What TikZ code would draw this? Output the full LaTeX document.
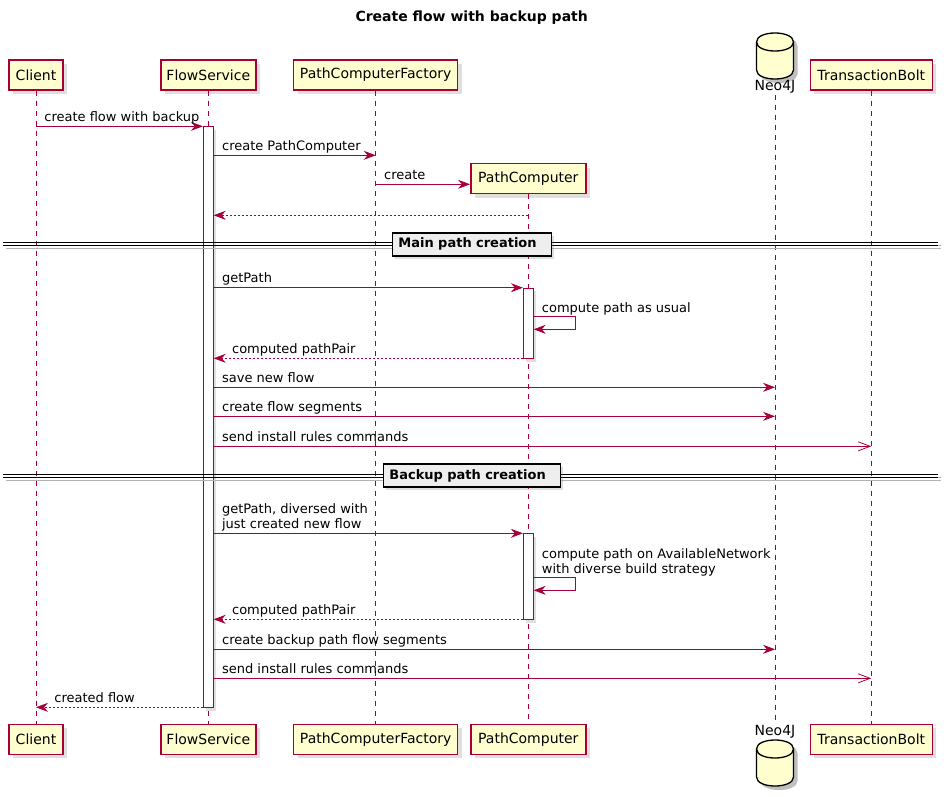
\documentclass[tikz,border=0pt]{standalone}
\usepackage{fontspec}
\setmainfont{DejaVu Sans}
\usetikzlibrary{arrows.meta,shadows}
\definecolor{umlred}{HTML}{A80036}
\definecolor{umlbox}{HTML}{FEFECE}
\definecolor{umlgrey}{HTML}{EEEEEE}
\tikzset{
  part/.style={draw=umlred, fill=umlbox, line width=1.5pt, minimum height=30, inner sep=0,
    font=\fontsize{14}{16}\selectfont,
    drop shadow={shadow xshift=4pt, shadow yshift=-4pt, opacity=.25}},
  life/.style={umlred, line width=0.8pt, dash pattern=on 5pt off 5pt},
  act/.style={draw=umlred, fill=white, line width=0.8pt, minimum width=10, inner sep=0,
    drop shadow={shadow xshift=3pt, shadow yshift=-3pt, opacity=.25}},
  msg/.style={umlred, line width=0.8pt, -{Stealth[length=12pt,width=9pt,inset=4pt]}},
  ret/.style={msg, dash pattern=on 2pt off 2pt},
  async/.style={umlred, line width=0.8pt, -{Straight Barb[length=12pt,width=9pt]}},
  lbl/.style={text=black, font=\fontsize{13}{15}\selectfont, anchor=south west, inner sep=0,
    text depth=3pt, align=left, yshift=1.5pt},
  divider/.style={draw, line width=1.5pt, fill=umlgrey, inner ysep=0, inner xsep=6, minimum height=23,
    anchor=west, align=left, font=\bfseries\fontsize{13}{15}\selectfont,
    drop shadow={shadow xshift=3pt, shadow yshift=-3pt, opacity=.25}},
  dbase/.style={draw, line width=1.3pt, fill=umlbox},
}
\begin{document}
\begin{tikzpicture}[x=1pt,y=-1pt]
\useasboundingbox (0,0) rectangle (950,797);
\node[font=\bfseries\fontsize{14}{16}\selectfont] (title) at (471.7,18) {Create flow with backup path};

\node[part, minimum width=54] (clT) at (36,75) {Client};
\node[part, minimum width=95] (fsT) at (208.3,75) {FlowService};
\node[part, minimum width=164] (pcfT) at (375.7,75) {PathComputerFactory};
\node[part, minimum width=115] (pcT) at (528.3,178.7) {PathComputer};
\node[part, minimum width=122] (tbT) at (871.3,75) {TransactionBolt};
\node[inner sep=1, font=\fontsize{14}{16}\selectfont] (neoT) at (775,87) {Neo4J};

\node[part, minimum width=54] (clB) at (36,739.3) {Client};
\node[part, minimum width=95] (fsB) at (208.3,739.3) {FlowService};
\node[part, minimum width=164] (pcfB) at (375.7,739.3) {PathComputerFactory};
\node[part, minimum width=115] (pcB) at (528.3,739.3) {PathComputer};
\node[part, minimum width=122] (tbB) at (871.3,739.3) {TransactionBolt};
\node[inner sep=1, font=\fontsize{14}{16}\selectfont] (neoB) at (775,732) {Neo4J};

\foreach \cy in {0,707}{
  \fill[black, opacity=.25] (760.5,46+\cy) .. controls (760.5,34+\cy) and (797.5,34+\cy) .. (797.5,46+\cy)
    -- (797.5,74+\cy) .. controls (797.5,86+\cy) and (760.5,86+\cy) .. (760.5,74+\cy) -- cycle;
  \draw[dbase] (756.5,42+\cy) .. controls (756.5,30+\cy) and (793.5,30+\cy) .. (793.5,42+\cy)
    -- (793.5,70+\cy) .. controls (793.5,82+\cy) and (756.5,82+\cy) .. (756.5,70+\cy) -- cycle;
  \draw[line width=1.3pt] (756.5,42+\cy) .. controls (756.5,54+\cy) and (793.5,54+\cy) .. (793.5,42+\cy);
}

\draw[life] (clT) -- (clB);
\draw[life] (fsT) -- (fsB);
\draw[life] (pcfT) -- (pcfB);
\draw[life] (pcT) -- (pcB);
\draw[life] (neoT) -- (neoB);
\draw[life] (tbT) -- (tbB);

\node[act, anchor=north, minimum height=581] (fsact) at (208.3,126.3) {};
\node[act, anchor=north, minimum height=70.6] (pcact1) at (528.3,287.7) {};
\node[act, anchor=north, minimum height=86] (pcact2) at (528.3,533.3) {};

\draw[msg] (clT |- 0,126.3) -- (fsact.west |- 0,126.3) node[lbl, at start, xshift=8] {create flow with backup};
\draw[msg] (fsact.east |- 0,155.3) -- (pcfT |- 0,155.3) node[lbl, at start, xshift=8] {create PathComputer};
\draw[msg] (pcfT |- 0,184.3) -- (pcT.west |- 0,184.3) node[lbl, at start, xshift=8] {create};
\draw[ret] (pcT |- 0,215.3) -- (fsact.east |- 0,215.3);

\foreach \dy/\dname/\dw/\dx in {244.3/Main path creation/159/391.7, 475.5/Backup path creation/177/382.7}{
  \draw[black!30, line width=1pt] (6,\dy+1.5) -- (941,\dy+1.5) (6,\dy+4.5) -- (941,\dy+4.5);
  \draw[line width=1pt] (3,\dy-1.5) -- (938,\dy-1.5) (3,\dy+1.5) -- (938,\dy+1.5);
  \node[divider, text width=\dw-12] at (\dx,\dy) {\dname};
}

\draw[msg] (fsact.east |- 0,287.7) -- (pcact1.west |- 0,287.7) node[lbl, at start, xshift=8] {getPath};
\draw[msg] (pcact1.east |- 0,316.7) -| (575.3,329.3) -- (pcact1.east |- 0,329.3);
\node[lbl, xshift=8] (self1) at (pcact1.east |- 0,316.7) {compute path as usual};
\draw[ret] (pcact1.west |- 0,358.3) -- (fsact.east |- 0,358.3) node[lbl, at end, xshift=18] {computed pathPair};
\draw[msg] (fsact.east |- 0,387.3) -- (neoT |- 0,387.3) node[lbl, at start, xshift=8] {save new flow};
\draw[msg] (fsact.east |- 0,416.3) -- (neoT |- 0,416.3) node[lbl, at start, xshift=8] {create flow segments};
\draw[async] (fsact.east |- 0,446.3) -- (tbT |- 0,446.3) node[lbl, at start, xshift=8] {send install rules commands};

\draw[msg] (fsact.east |- 0,533.3) -- (pcact2.west |- 0,533.3) node[lbl, at start, xshift=8] {getPath, diversed with\\just created new flow};
\draw[msg] (pcact2.east |- 0,577.7) -| (575.3,590.3) -- (pcact2.east |- 0,590.3);
\node[lbl, xshift=8] (self2) at (pcact2.east |- 0,577.7) {compute path on AvailableNetwork\\with diverse build strategy};
\draw[ret] (pcact2.west |- 0,619.3) -- (fsact.east |- 0,619.3) node[lbl, at end, xshift=18] {computed pathPair};
\draw[msg] (fsact.east |- 0,649.3) -- (neoT |- 0,649.3) node[lbl, at start, xshift=8] {create backup path flow segments};
\draw[async] (fsact.east |- 0,678.3) -- (tbT |- 0,678.3) node[lbl, at start, xshift=8] {send install rules commands};
\draw[ret] (fsact.west |- 0,707.3) -- (clT |- 0,707.3) node[lbl, at end, xshift=18] {created flow};
\end{tikzpicture}
\end{document}
